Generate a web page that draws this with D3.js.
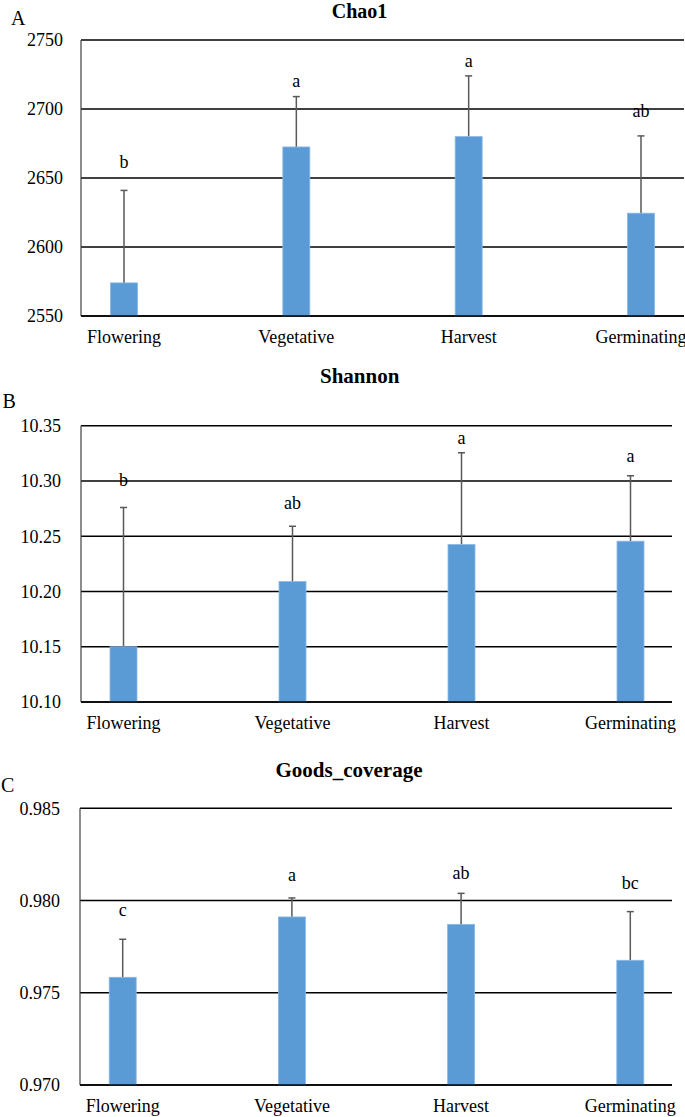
<!DOCTYPE html>
<html><head><meta charset="utf-8">
<script src="https://cdn.jsdelivr.net/npm/d3@7"></script>
<style>
html,body{margin:0;padding:0;background:#fff;}
text{font-family:"Liberation Serif","Times New Roman",serif;fill:#000;}
</style></head>
<body>
<svg id="chart" width="685" height="1117"></svg>
<script>
// ---- data ----
const categories = ["Flowering", "Vegetative", "Harvest", "Germinating"];

const chao1Mean  = [2574, 2672.5, 2680, 2624.5];
const chao1Upper = [2641, 2709, 2724, 2680.5];
const chao1Letters = ["b", "a", "a", "ab"];
const chao1LetterAt = [2657, 2715.7, 2730.7, 2694.4];
const chao1Ticks = [2550, 2600, 2650, 2700, 2750];

const shannonMean  = [10.150, 10.209, 10.2425, 10.2455];
const shannonUpper = [10.276, 10.259, 10.3255, 10.3047];
const shannonLetters = ["b", "ab", "a", "a"];
const shannonLetterAt = [10.2957, 10.2745, 10.3337, 10.3168];
const shannonTicks = [10.10, 10.15, 10.20, 10.25, 10.30, 10.35];

const goodsMean  = [0.97584, 0.97911, 0.97871, 0.97676];
const goodsUpper = [0.9779, 0.98014, 0.98039, 0.9794];
const goodsLetters = ["c", "a", "ab", "bc"];
const goodsLetterAt = [0.97916, 0.98108, 0.98119, 0.98061];
const goodsTicks = [0.970, 0.975, 0.980, 0.985];

// ---- layout ----
const FONT = '"Liberation Serif","Times New Roman",serif';
const panels = [
  {tag:"A", title:"Chao1", mean:chao1Mean, upper:chao1Upper, letters:chao1Letters, letterAt:chao1LetterAt,
   ticks:chao1Ticks, fmt:d3.format("d"),
   top:40, bottom:316, left:81, right:684, x0:124, x1:641, labelX:63,
   titleX:359.5, titleY:18, titleSize:20, tagX:11, tagY:25},
  {tag:"B", title:"Shannon", mean:shannonMean, upper:shannonUpper, letters:shannonLetters, letterAt:shannonLetterAt,
   ticks:shannonTicks, fmt:d3.format(".2f"),
   top:425.7, bottom:702, left:81, right:672, x0:123.5, x1:630.5, labelX:61,
   titleX:359.7, titleY:383.3, titleSize:21, tagX:2.5, tagY:408.3},
  {tag:"C", title:"Goods_coverage", mean:goodsMean, upper:goodsUpper, letters:goodsLetters, letterAt:goodsLetterAt,
   ticks:goodsTicks, fmt:d3.format(".3f"),
   top:808.3, bottom:1085, left:80, right:672, x0:122.7, x1:630.3, labelX:60,
   titleX:349, titleY:777.3, titleSize:21, tagX:1, tagY:791.7}
];

const svg = d3.select("#chart");
const barW = 27;

panels.forEach(p => {
  const g = svg.append("g").attr("font-family", FONT);
  const ticks = p.ticks;
  const y = d3.scaleLinear().domain([ticks[0], ticks[ticks.length-1]]).range([p.bottom, p.top]);
  const x = d3.scalePoint().domain(categories).range([p.x0, p.x1]);

  // gridlines (incl. top & bottom)
  g.selectAll("line.grid").data(ticks).join("line")
    .attr("x1", p.left).attr("x2", p.right)
    .attr("y1", d => y(d)).attr("y2", d => y(d))
    .attr("stroke", "#000").attr("stroke-width", 1.4);

  // left axis
  g.append("line").attr("x1", p.left).attr("x2", p.left)
    .attr("y1", p.top).attr("y2", p.bottom)
    .attr("stroke", "#404040").attr("stroke-width", 1.2);

  // y tick labels
  g.selectAll("text.tick").data(ticks).join("text")
    .attr("x", p.labelX).attr("y", d => y(d) + 6.3)
    .attr("text-anchor", "end").attr("font-size", 18)
    .text(d => p.fmt(d));

  // error bars (upper only)
  const eb = g.selectAll("g.eb").data(categories).join("g");
  eb.append("line")
    .attr("x1", d => x(d)).attr("x2", d => x(d))
    .attr("y1", (d,i) => y(p.mean[i])).attr("y2", (d,i) => y(p.upper[i]))
    .attr("stroke", "#595959").attr("stroke-width", 1.5);
  eb.append("line")
    .attr("x1", d => x(d) - 3.5).attr("x2", d => x(d) + 3.5)
    .attr("y1", (d,i) => y(p.upper[i])).attr("y2", (d,i) => y(p.upper[i]))
    .attr("stroke", "#595959").attr("stroke-width", 1.5);

  // bars
  g.selectAll("rect.bar").data(categories).join("rect")
    .attr("x", d => x(d) - barW/2).attr("width", barW)
    .attr("y", (d,i) => y(p.mean[i])).attr("height", (d,i) => p.bottom - y(p.mean[i]))
    .attr("fill", "#5b9bd5").attr("stroke", "#8ab8e6").attr("stroke-width", 0.8);

  // redraw bottom axis on top of bars
  g.append("line").attr("x1", p.left).attr("x2", p.right)
    .attr("y1", p.bottom).attr("y2", p.bottom)
    .attr("stroke", "#000").attr("stroke-width", 1.4);

  // significance letters
  g.selectAll("text.letter").data(categories).join("text")
    .attr("x", d => x(d)).attr("y", (d,i) => y(p.letterAt[i]))
    .attr("text-anchor", "middle").attr("font-size", 18)
    .text((d,i) => p.letters[i]);

  // x category labels
  g.selectAll("text.cat").data(categories).join("text")
    .attr("x", d => x(d)).attr("y", p.bottom + 27)
    .attr("text-anchor", "middle").attr("font-size", 18)
    .text(d => d);

  // title
  g.append("text").attr("x", p.titleX).attr("y", p.titleY)
    .attr("text-anchor", "middle").attr("font-size", p.titleSize).attr("font-weight", "bold")
    .text(p.title);

  // panel tag
  g.append("text").attr("x", p.tagX).attr("y", p.tagY)
    .attr("font-size", 20).text(p.tag);
});
</script>
</body></html>
